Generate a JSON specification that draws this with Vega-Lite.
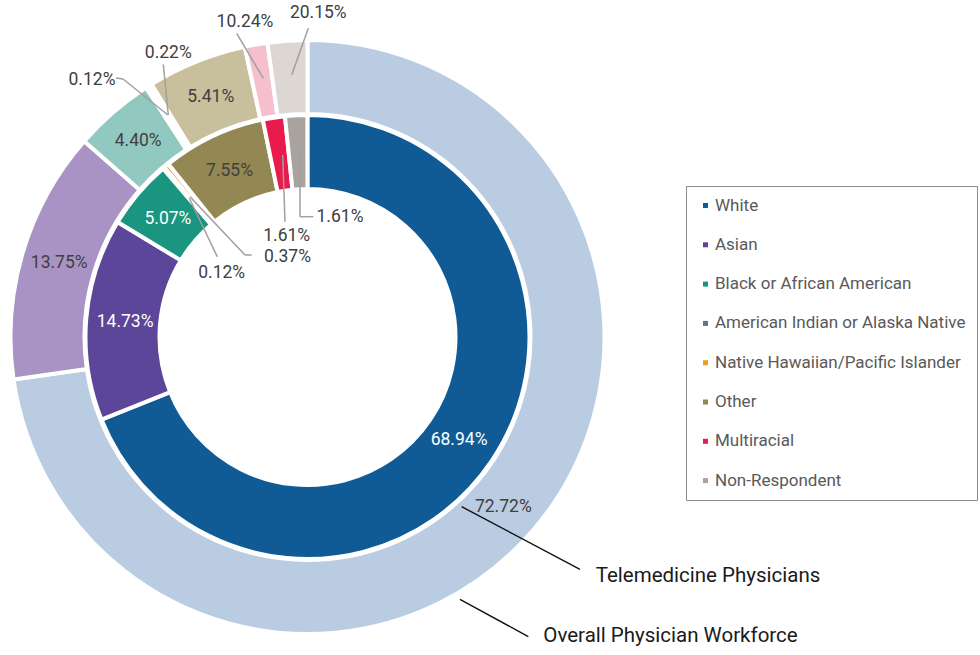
{
  "$schema": "https://vega.github.io/schema/vega-lite/v6.json",
  "width": 615,
  "height": 674,
  "padding": 0,
  "autosize": {"type": "pad"},
  "background": "white",
  "config": {"view": {"stroke": null}, "font": "Roboto"},
  "data": {
    "values": [
      {"ring": "Telemedicine Physicians", "race": "White", "order": 1, "value": 68.94, "label": "68.94%"},
      {"ring": "Telemedicine Physicians", "race": "Asian", "order": 2, "value": 14.73, "label": "14.73%"},
      {"ring": "Telemedicine Physicians", "race": "Black or African American", "order": 3, "value": 5.07, "label": "5.07%"},
      {"ring": "Telemedicine Physicians", "race": "American Indian or Alaska Native", "order": 4, "value": 0.12, "label": "0.12%"},
      {"ring": "Telemedicine Physicians", "race": "Native Hawaiian/Pacific Islander", "order": 5, "value": 0.37, "label": "0.37%"},
      {"ring": "Telemedicine Physicians", "race": "Other", "order": 6, "value": 7.55, "label": "7.55%"},
      {"ring": "Telemedicine Physicians", "race": "Multiracial", "order": 7, "value": 1.61, "label": "1.61%"},
      {"ring": "Telemedicine Physicians", "race": "Non-Respondent", "order": 8, "value": 1.61, "label": "1.61%"},
      {"ring": "Overall Physician Workforce", "race": "White", "order": 1, "value": 72.72, "label": "72.72%"},
      {"ring": "Overall Physician Workforce", "race": "Asian", "order": 2, "value": 13.75, "label": "13.75%"},
      {"ring": "Overall Physician Workforce", "race": "Black or African American", "order": 3, "value": 4.40, "label": "4.40%"},
      {"ring": "Overall Physician Workforce", "race": "American Indian or Alaska Native", "order": 4, "value": 0.12, "label": "0.12%"},
      {"ring": "Overall Physician Workforce", "race": "Native Hawaiian/Pacific Islander", "order": 5, "value": 0.22, "label": "0.22%"},
      {"ring": "Overall Physician Workforce", "race": "Other", "order": 6, "value": 5.41, "label": "5.41%"},
      {"ring": "Overall Physician Workforce", "race": "Multiracial", "order": 7, "value": 1.24, "label": "10.24%"},
      {"ring": "Overall Physician Workforce", "race": "Non-Respondent", "order": 8, "value": 2.15, "label": "20.15%"}
    ]
  },
  "layer": [
    {
      "transform": [{"filter": "datum.ring == 'Overall Physician Workforce'"}],
      "mark": {"type": "arc", "radius": 297, "innerRadius": 223, "stroke": "white", "strokeWidth": 4},
      "encoding": {
        "theta": {"field": "value", "type": "quantitative", "stack": true, "scale": {"domain": [0, 100.01]}},
        "order": {"field": "order", "type": "quantitative"},
        "color": {
          "field": "race", "type": "nominal",
          "scale": {
            "domain": ["White", "Asian", "Black or African American", "American Indian or Alaska Native", "Native Hawaiian/Pacific Islander", "Other", "Multiracial", "Non-Respondent"],
            "range": ["#b9cce2", "#a993c4", "#91c8c0", "#b3c0c8", "#f6cf9a", "#c8bf9c", "#f5bfcd", "#dcd7d3"]
          },
          "legend": null
        }
      }
    },
    {
      "transform": [{"filter": "datum.ring == 'Telemedicine Physicians'"}],
      "mark": {"type": "arc", "radius": 222, "innerRadius": 148, "stroke": "white", "strokeWidth": 4},
      "encoding": {
        "theta": {"field": "value", "type": "quantitative", "stack": true, "scale": {"domain": [0, 100.01]}},
        "order": {"field": "order", "type": "quantitative"},
        "color": {
          "field": "race", "type": "nominal",
          "scale": {
            "domain": ["White", "Asian", "Black or African American", "American Indian or Alaska Native", "Native Hawaiian/Pacific Islander", "Other", "Multiracial", "Non-Respondent"],
            "range": ["#105b95", "#5c4699", "#199580", "#5f7786", "#ef9d26", "#938753", "#e91a4c", "#a8a39f"]
          },
          "legend": {
            "orient": "none", "legendX": 686, "legendY": 186, "title": null,
            "symbolType": "square", "symbolSize": 25, "symbolStrokeWidth": 0,
            "labelFontSize": 17, "labelFont": "Roboto", "labelColor": "#595959",
            "labelOffset": 1, "labelLimit": 400, "rowPadding": 21.3, "padding": 11,
            "strokeColor": "#8c8c8c", "fillColor": "white"
          }
        }
      }
    },
    {
      "transform": [{"filter": "datum.ring == 'Telemedicine Physicians'"}],
      "mark": {"type": "text", "radius": 183, "fontSize": 17.5, "font": "Roboto", "align": "center", "baseline": "middle"},
      "encoding": {
        "theta": {"field": "value", "type": "quantitative", "stack": true, "scale": {"domain": [0, 100.01]}},
        "order": {"field": "order", "type": "quantitative"},
        "detail": {"field": "race", "type": "nominal"},
        "text": {"condition": {"test": "datum.value >= 4", "field": "label", "type": "nominal"}, "value": ""},
        "color": {"condition": {"test": "datum.race == 'White' || datum.race == 'Asian' || datum.race == 'Black or African American'", "value": "white"}, "value": "#404040"}
      }
    },
    {
      "transform": [{"filter": "datum.ring == 'Overall Physician Workforce'"}],
      "mark": {"type": "text", "radius": 259, "fontSize": 17.5, "font": "Roboto", "align": "center", "baseline": "middle", "color": "#404040"},
      "encoding": {
        "theta": {"field": "value", "type": "quantitative", "stack": true, "scale": {"domain": [0, 100.01]}},
        "order": {"field": "order", "type": "quantitative"},
        "detail": {"field": "race", "type": "nominal"},
        "text": {"condition": {"test": "datum.value >= 4", "field": "label", "type": "nominal"}, "value": ""}
      }
    },
    {
      "transform": [{"filter": "datum.ring == 'Overall Physician Workforce' && datum.race == 'American Indian or Alaska Native'"}],
      "layer": [
        {"mark": {"type": "rule", "color": "#a0a0a0", "strokeWidth": 1.5},
         "encoding": {
           "x": {"datum": -0.6492, "type": "quantitative", "scale": {"domain": [-1.0424, 1.0424], "nice": false, "zero": false}, "axis": null},
           "y": {"datum": 0.8780, "type": "quantitative", "scale": {"domain": [-1.1424, 1.1424], "nice": false, "zero": false}, "axis": null},
           "x2": {"datum": -0.6254}, "y2": {"datum": 0.8746}}},
        {"mark": {"type": "rule", "color": "#a0a0a0", "strokeWidth": 1.5},
         "encoding": {
           "x": {"datum": -0.6254, "type": "quantitative", "scale": {"domain": [-1.0424, 1.0424], "nice": false, "zero": false}, "axis": null},
           "y": {"datum": 0.8746, "type": "quantitative", "scale": {"domain": [-1.1424, 1.1424], "nice": false, "zero": false}, "axis": null},
           "x2": {"datum": -0.4729}, "y2": {"datum": 0.7525}}},
        {"mark": {"type": "text", "fontSize": 17.5, "font": "Roboto", "color": "#404040", "align": "center", "baseline": "middle"},
         "encoding": {
           "x": {"datum": -0.7305, "type": "quantitative", "scale": {"domain": [-1.0424, 1.0424], "nice": false, "zero": false}, "axis": null},
           "y": {"datum": 0.8712, "type": "quantitative", "scale": {"domain": [-1.1424, 1.1424], "nice": false, "zero": false}, "axis": null},
           "text": {"field": "label", "type": "nominal"}}}
      ]
    },
    {
      "transform": [{"filter": "datum.ring == 'Overall Physician Workforce' && datum.race == 'Native Hawaiian/Pacific Islander'"}],
      "layer": [
        {"mark": {"type": "rule", "color": "#a0a0a0", "strokeWidth": 1.5},
         "encoding": {
           "x": {"datum": -0.4888, "type": "quantitative", "scale": {"domain": [-1.0424, 1.0424], "nice": false, "zero": false}, "axis": null},
           "y": {"datum": 0.9237, "type": "quantitative", "scale": {"domain": [-1.1424, 1.1424], "nice": false, "zero": false}, "axis": null},
           "x2": {"datum": -0.4719}, "y2": {"datum": 0.7525}}},
        {"mark": {"type": "text", "fontSize": 17.5, "font": "Roboto", "color": "#404040", "align": "center", "baseline": "middle"},
         "encoding": {
           "x": {"datum": -0.4719, "type": "quantitative", "scale": {"domain": [-1.0424, 1.0424], "nice": false, "zero": false}, "axis": null},
           "y": {"datum": 0.9644, "type": "quantitative", "scale": {"domain": [-1.1424, 1.1424], "nice": false, "zero": false}, "axis": null},
           "text": {"field": "label", "type": "nominal"}}}
      ]
    },
    {
      "transform": [{"filter": "datum.ring == 'Overall Physician Workforce' && datum.race == 'Multiracial'"}],
      "layer": [
        {"mark": {"type": "rule", "color": "#a0a0a0", "strokeWidth": 1.5},
         "encoding": {
           "x": {"datum": -0.2400, "type": "quantitative", "scale": {"domain": [-1.0424, 1.0424], "nice": false, "zero": false}, "axis": null},
           "y": {"datum": 1.0295, "type": "quantitative", "scale": {"domain": [-1.1424, 1.1424], "nice": false, "zero": false}, "axis": null},
           "x2": {"datum": -0.1498}, "y2": {"datum": 0.8769}}},
        {"mark": {"type": "text", "fontSize": 17.5, "font": "Roboto", "color": "#404040", "align": "center", "baseline": "middle"},
         "encoding": {
           "x": {"datum": -0.2119, "type": "quantitative", "scale": {"domain": [-1.0424, 1.0424], "nice": false, "zero": false}, "axis": null},
           "y": {"datum": 1.0688, "type": "quantitative", "scale": {"domain": [-1.1424, 1.1424], "nice": false, "zero": false}, "axis": null},
           "text": {"field": "label", "type": "nominal"}}}
      ]
    },
    {
      "transform": [{"filter": "datum.ring == 'Overall Physician Workforce' && datum.race == 'Non-Respondent'"}],
      "layer": [
        {"mark": {"type": "rule", "color": "#a0a0a0", "strokeWidth": 1.5},
         "encoding": {
           "x": {"datum": 0.0028, "type": "quantitative", "scale": {"domain": [-1.0424, 1.0424], "nice": false, "zero": false}, "axis": null},
           "y": {"datum": 1.0464, "type": "quantitative", "scale": {"domain": [-1.1424, 1.1424], "nice": false, "zero": false}, "axis": null},
           "x2": {"datum": -0.0536}, "y2": {"datum": 0.8881}}},
        {"mark": {"type": "text", "fontSize": 17.5, "font": "Roboto", "color": "#404040", "align": "center", "baseline": "middle"},
         "encoding": {
           "x": {"datum": 0.0366, "type": "quantitative", "scale": {"domain": [-1.0424, 1.0424], "nice": false, "zero": false}, "axis": null},
           "y": {"datum": 1.0973, "type": "quantitative", "scale": {"domain": [-1.1424, 1.1424], "nice": false, "zero": false}, "axis": null},
           "text": {"field": "label", "type": "nominal"}}}
      ]
    },
    {
      "transform": [{"filter": "datum.ring == 'Telemedicine Physicians' && datum.race == 'Multiracial'"}],
      "layer": [
        {"mark": {"type": "rule", "color": "#a0a0a0", "strokeWidth": 1.5},
         "encoding": {
           "x": {"datum": -0.0841, "type": "quantitative", "scale": {"domain": [-1.0424, 1.0424], "nice": false, "zero": false}, "axis": null},
           "y": {"datum": 0.6169, "type": "quantitative", "scale": {"domain": [-1.1424, 1.1424], "nice": false, "zero": false}, "axis": null},
           "x2": {"datum": -0.0763}, "y2": {"datum": 0.3909}}},
        {"mark": {"type": "text", "fontSize": 17.5, "font": "Roboto", "color": "#404040", "align": "center", "baseline": "middle"},
         "encoding": {
           "x": {"datum": -0.0705, "type": "quantitative", "scale": {"domain": [-1.0424, 1.0424], "nice": false, "zero": false}, "axis": null},
           "y": {"datum": 0.3431, "type": "quantitative", "scale": {"domain": [-1.1424, 1.1424], "nice": false, "zero": false}, "axis": null},
           "text": {"field": "label", "type": "nominal"}}}
      ]
    },
    {
      "transform": [{"filter": "datum.ring == 'Telemedicine Physicians' && datum.race == 'Non-Respondent'"}],
      "layer": [
        {"mark": {"type": "rule", "color": "#a0a0a0", "strokeWidth": 1.5},
         "encoding": {
           "x": {"datum": -0.0254, "type": "quantitative", "scale": {"domain": [-1.0424, 1.0424], "nice": false, "zero": false}, "axis": null},
           "y": {"datum": 0.6227, "type": "quantitative", "scale": {"domain": [-1.1424, 1.1424], "nice": false, "zero": false}, "axis": null},
           "x2": {"datum": -0.0254}, "y2": {"datum": 0.4078}}},
        {"mark": {"type": "rule", "color": "#a0a0a0", "strokeWidth": 1.5},
         "encoding": {
           "x": {"datum": -0.0254, "type": "quantitative", "scale": {"domain": [-1.0424, 1.0424], "nice": false, "zero": false}, "axis": null},
           "y": {"datum": 0.4078, "type": "quantitative", "scale": {"domain": [-1.1424, 1.1424], "nice": false, "zero": false}, "axis": null},
           "x2": {"datum": 0.0198}, "y2": {"datum": 0.4078}}},
        {"mark": {"type": "text", "fontSize": 17.5, "font": "Roboto", "color": "#404040", "align": "center", "baseline": "middle"},
         "encoding": {
           "x": {"datum": 0.1102, "type": "quantitative", "scale": {"domain": [-1.0424, 1.0424], "nice": false, "zero": false}, "axis": null},
           "y": {"datum": 0.4051, "type": "quantitative", "scale": {"domain": [-1.1424, 1.1424], "nice": false, "zero": false}, "axis": null},
           "text": {"field": "label", "type": "nominal"}}}
      ]
    },
    {
      "transform": [{"filter": "datum.ring == 'Telemedicine Physicians' && datum.race == 'Native Hawaiian/Pacific Islander'"}],
      "layer": [
        {"mark": {"type": "rule", "color": "#a0a0a0", "strokeWidth": 1.5},
         "encoding": {
           "x": {"datum": -0.3983, "type": "quantitative", "scale": {"domain": [-1.0424, 1.0424], "nice": false, "zero": false}, "axis": null},
           "y": {"datum": 0.4756, "type": "quantitative", "scale": {"domain": [-1.1424, 1.1424], "nice": false, "zero": false}, "axis": null},
           "x2": {"datum": -0.2119}, "y2": {"datum": 0.2780}}},
        {"mark": {"type": "rule", "color": "#a0a0a0", "strokeWidth": 1.5},
         "encoding": {
           "x": {"datum": -0.2119, "type": "quantitative", "scale": {"domain": [-1.0424, 1.0424], "nice": false, "zero": false}, "axis": null},
           "y": {"datum": 0.2780, "type": "quantitative", "scale": {"domain": [-1.1424, 1.1424], "nice": false, "zero": false}, "axis": null},
           "x2": {"datum": -0.1892}, "y2": {"datum": 0.2780}}},
        {"mark": {"type": "text", "fontSize": 17.5, "font": "Roboto", "color": "#404040", "align": "center", "baseline": "middle"},
         "encoding": {
           "x": {"datum": -0.0678, "type": "quantitative", "scale": {"domain": [-1.0424, 1.0424], "nice": false, "zero": false}, "axis": null},
           "y": {"datum": 0.2722, "type": "quantitative", "scale": {"domain": [-1.1424, 1.1424], "nice": false, "zero": false}, "axis": null},
           "text": {"field": "label", "type": "nominal"}}}
      ]
    },
    {
      "transform": [{"filter": "datum.ring == 'Telemedicine Physicians' && datum.race == 'American Indian or Alaska Native'"}],
      "layer": [
        {"mark": {"type": "rule", "color": "#a0a0a0", "strokeWidth": 1.5},
         "encoding": {
           "x": {"datum": -0.4007, "type": "quantitative", "scale": {"domain": [-1.0424, 1.0424], "nice": false, "zero": false}, "axis": null},
           "y": {"datum": 0.4702, "type": "quantitative", "scale": {"domain": [-1.1424, 1.1424], "nice": false, "zero": false}, "axis": null},
           "x2": {"datum": -0.3058}, "y2": {"datum": 0.2722}}},
        {"mark": {"type": "text", "fontSize": 17.5, "font": "Roboto", "color": "#404040", "align": "center", "baseline": "middle"},
         "encoding": {
           "x": {"datum": -0.2908, "type": "quantitative", "scale": {"domain": [-1.0424, 1.0424], "nice": false, "zero": false}, "axis": null},
           "y": {"datum": 0.2186, "type": "quantitative", "scale": {"domain": [-1.1424, 1.1424], "nice": false, "zero": false}, "axis": null},
           "text": {"field": "label", "type": "nominal"}}}
      ]
    },
    {
      "transform": [{"filter": "datum.ring == 'Telemedicine Physicians' && datum.race == 'White'"}],
      "layer": [
        {"mark": {"type": "rule", "color": "#111111", "strokeWidth": 1.4},
         "encoding": {
           "x": {"datum": 0.5227, "type": "quantitative", "scale": {"domain": [-1.0424, 1.0424], "nice": false, "zero": false}, "axis": null},
           "y": {"datum": -0.5753, "type": "quantitative", "scale": {"domain": [-1.1424, 1.1424], "nice": false, "zero": false}, "axis": null},
           "x2": {"datum": 0.9237}, "y2": {"datum": -0.7875}}},
        {"mark": {"type": "text", "fontSize": 20.5, "font": "Roboto", "color": "#1a1a1a", "align": "left", "baseline": "alphabetic"},
         "encoding": {
           "x": {"datum": 0.977, "type": "quantitative", "scale": {"domain": [-1.0424, 1.0424], "nice": false, "zero": false}, "axis": null},
           "y": {"datum": -0.8295, "type": "quantitative", "scale": {"domain": [-1.1424, 1.1424], "nice": false, "zero": false}, "axis": null},
           "text": {"field": "ring", "type": "nominal"}}}
      ]
    },
    {
      "transform": [{"filter": "datum.ring == 'Overall Physician Workforce' && datum.race == 'White'"}],
      "layer": [
        {"mark": {"type": "rule", "color": "#111111", "strokeWidth": 1.4},
         "encoding": {
           "x": {"datum": 0.5169, "type": "quantitative", "scale": {"domain": [-1.0424, 1.0424], "nice": false, "zero": false}, "axis": null},
           "y": {"datum": -0.8892, "type": "quantitative", "scale": {"domain": [-1.1424, 1.1424], "nice": false, "zero": false}, "axis": null},
           "x2": {"datum": 0.7486}, "y2": {"datum": -1.0159}}},
        {"mark": {"type": "text", "fontSize": 20.5, "font": "Roboto", "color": "#1a1a1a", "align": "left", "baseline": "alphabetic"},
         "encoding": {
           "x": {"datum": 0.7994, "type": "quantitative", "scale": {"domain": [-1.0424, 1.0424], "nice": false, "zero": false}, "axis": null},
           "y": {"datum": -1.0329, "type": "quantitative", "scale": {"domain": [-1.1424, 1.1424], "nice": false, "zero": false}, "axis": null},
           "text": {"field": "ring", "type": "nominal"}}}
      ]
    }
  ],
  "resolve": {"scale": {"color": "independent"}}
}
